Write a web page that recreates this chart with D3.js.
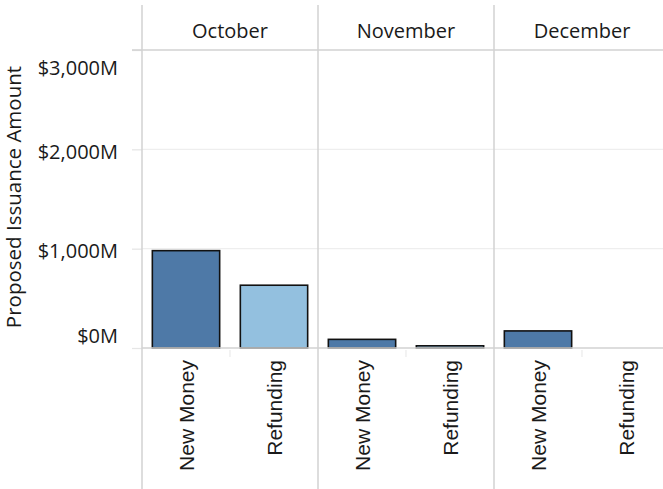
<!DOCTYPE html>
<html>
<head>
<meta charset="utf-8">
<script src="https://cdn.jsdelivr.net/npm/d3@7"></script>
<style>
  body { margin: 0; background: #fff; }
  text { fill: #1a1a1a; }
</style>
</head>
<body>
<div id="chart"></div>
<script>
const months = ["October", "November", "December"];
const types = ["New Money", "Refunding"];
// proposed issuance in $M, one array per type, in month order
const newMoney = [980, 87, 172];
const refunding = [632, 22, null];
const yTicks = [0, 1000, 2000, 3000];

const W = 663, H = 489;
const left = 142, panelW = 176, headTop = 5, headBottom = 50, base = 348;

const rows = [];
months.forEach((m, i) => {
  rows.push({ month: m, type: types[0], value: newMoney[i] });
  rows.push({ month: m, type: types[1], value: refunding[i] });
});

const svg = d3.select("#chart").append("svg")
    .attr("width", W)
    .attr("height", H);

const xMonth = d3.scaleBand()
    .domain(months)
    .range([left, left + panelW * months.length]);

const xType = d3.scaleBand()
    .domain(types)
    .range([0, panelW])
    .paddingInner(0.235)
    .paddingOuter(0.1175);

const y = d3.scaleLinear()
    .domain([0, 3000])
    .range([base, headBottom]);

const color = d3.scaleOrdinal()
    .domain(types)
    .range(["#4e79a7", "#93c0df"]);

// light grid lines
svg.append("g")
  .selectAll("line")
  .data(yTicks.filter(d => d > 0 && d < 3000))
  .join("line")
    .attr("x1", left).attr("x2", W)
    .attr("y1", d => y(d)).attr("y2", d => y(d))
    .attr("stroke", "#eeeeee")
    .attr("stroke-width", 1.3);

// y axis: ticks + labels
const yAxis = svg.append("g")
    .attr("transform", "translate(" + left + ",0)")
    .call(d3.axisLeft(y)
      .tickValues(yTicks)
      .tickSize(10)
      .tickPadding(14)
      .tickFormat(d => "$" + d3.format(",")(d) + "M"));
yAxis.select(".domain").remove();
yAxis.selectAll(".tick line").attr("stroke", "#e6e6e6").attr("stroke-width", 1.3);
yAxis.selectAll(".tick text")
    .style("font-family", "'Open Sans', sans-serif")
    .style("font-size", "20px")
    .attr("fill", "#1a1a1a")
    .attr("dy", null)
    .attr("y", d => {
      // keep end labels inside the pane like the original does
      const yy = y(d) + 9;
      return Math.max(Math.min(yy, base - 6), headBottom + 24) - y(d);
    });

// y title
svg.append("text")
    .attr("transform", "translate(21," + 197 + ") rotate(-90)")
    .attr("text-anchor", "middle")
    .style("font-family", "'Open Sans', sans-serif")
    .style("font-size", "20.5px")
    .text("Proposed Issuance Amount");

// bars
const panels = svg.append("g").selectAll("g")
  .data(months)
  .join("g")
    .attr("transform", m => "translate(" + xMonth(m) + ",0)");

panels.selectAll("rect")
  .data(m => rows.filter(r => r.month === m && r.value != null))
  .join("rect")
    .attr("x", d => xType(d.type))
    .attr("width", xType.bandwidth())
    .attr("y", d => y(d.value))
    .attr("height", d => base - y(d.value))
    .attr("fill", d => color(d.type))
    .attr("stroke", "#111")
    .attr("stroke-width", 1.6);

// baseline
svg.append("line")
    .attr("x1", left).attr("x2", W)
    .attr("y1", base).attr("y2", base)
    .attr("stroke", "#d2d2d2")
    .attr("stroke-width", 1.5);

// header line
svg.append("line")
    .attr("x1", left - 10).attr("x2", W)
    .attr("y1", headBottom).attr("y2", headBottom)
    .attr("stroke", "#d2d2d2")
    .attr("stroke-width", 1.5);

// panel separators
svg.append("g").selectAll("line")
  .data(months)
  .join("line")
    .attr("x1", m => xMonth(m)).attr("x2", m => xMonth(m))
    .attr("y1", headTop).attr("y2", H)
    .attr("stroke", "#d2d2d2")
    .attr("stroke-width", 1.5);

// small dividers between categories under the baseline
panels.append("line")
    .attr("x1", panelW / 2).attr("x2", panelW / 2)
    .attr("y1", base + 2).attr("y2", base + 9)
    .attr("stroke", "#ececec")
    .attr("stroke-width", 1.3);

// month headers
panels.append("text")
    .attr("x", panelW / 2)
    .attr("y", 38)
    .attr("text-anchor", "middle")
    .style("font-family", "'Open Sans', sans-serif")
    .style("font-size", "20px")
    .text(m => m);

// category labels (rotated)
panels.selectAll("text.cat")
  .data(types)
  .join("text")
    .attr("class", "cat")
    .attr("transform", t => "translate(" + (xType(t) + xType.bandwidth() / 2 + 8) + "," + 360 + ") rotate(-90)")
    .attr("text-anchor", "end")
    .style("font-family", "'Liberation Sans', Arial, sans-serif")
    .style("font-size", "21px")
    .text(t => t);
</script>
</body>
</html>
